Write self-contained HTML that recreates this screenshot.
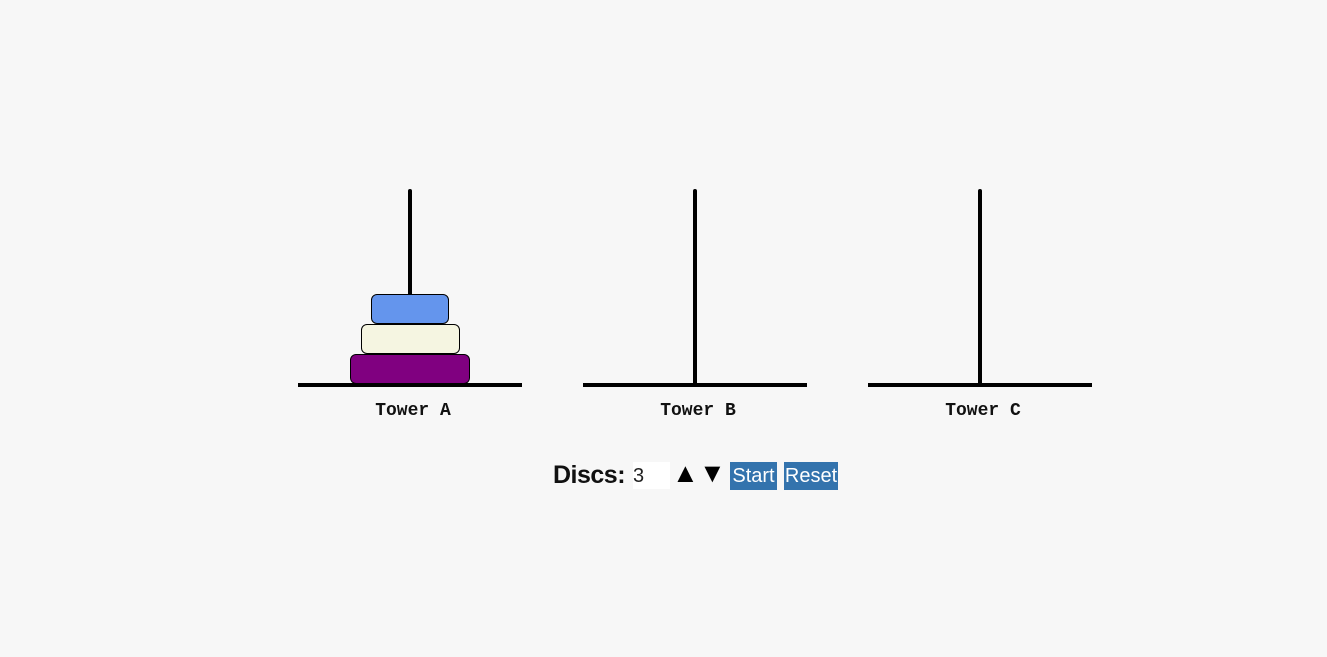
<!DOCTYPE html>
<html><head><meta charset="utf-8"><style>
body{margin:0;width:1327px;height:657px;background:#f7f7f7;position:relative;overflow:hidden;font-family:"Liberation Sans",sans-serif}
.abs{position:absolute}
.pole{position:absolute;width:4px;top:189px;height:196px;background:#000;border-radius:2px}
.base{position:absolute;top:383px;height:4px;width:224px;background:#000}
.lbl{position:absolute;top:401px;width:224px;text-align:center;font:bold 18px "Liberation Mono",monospace;color:#111}
.disc{position:absolute;border:1px solid #000;border-radius:6px;box-sizing:border-box}
.btn{position:absolute;top:462px;height:28px;background:#3373ad;color:#fff;font-size:20px;line-height:28px;text-align:center}
</style></head><body>
<div>
<div class="pole" style="left:408px"></div>
<div class="disc" style="left:371px;top:294px;width:78px;height:30px;background:#6495ed"></div>
<div class="disc" style="left:361px;top:324px;width:99px;height:30px;background:#f5f5e1"></div>
<div class="disc" style="left:350px;top:354px;width:120px;height:30px;background:#800080"></div>
<div class="base" style="left:298px"></div>
<div class="lbl" style="left:301px">Tower A</div>
</div>
<div>
<div class="pole" style="left:693px"></div>
<div class="base" style="left:583px"></div>
<div class="lbl" style="left:586px">Tower B</div>
</div>
<div>
<div class="pole" style="left:978px"></div>
<div class="base" style="left:868px"></div>
<div class="lbl" style="left:871px">Tower C</div>
</div>
<div class="abs" style="left:553px;top:461px;font-size:25px;font-weight:bold;color:#111;letter-spacing:-0.5px">Discs:</div>
<div class="abs" style="left:633px;top:462px;width:37px;height:27px;background:#fff;font-size:20px;line-height:28px;color:#222">3</div>
<div class="abs" style="left:672px;top:458px;font-size:27px;color:#000">▲</div>
<div class="abs" style="left:699px;top:458px;font-size:27px;color:#000">▼</div>
<div class="btn" style="left:730px;width:47px">Start</div>
<div class="btn" style="left:784px;width:54px">Reset</div>
</body></html>
